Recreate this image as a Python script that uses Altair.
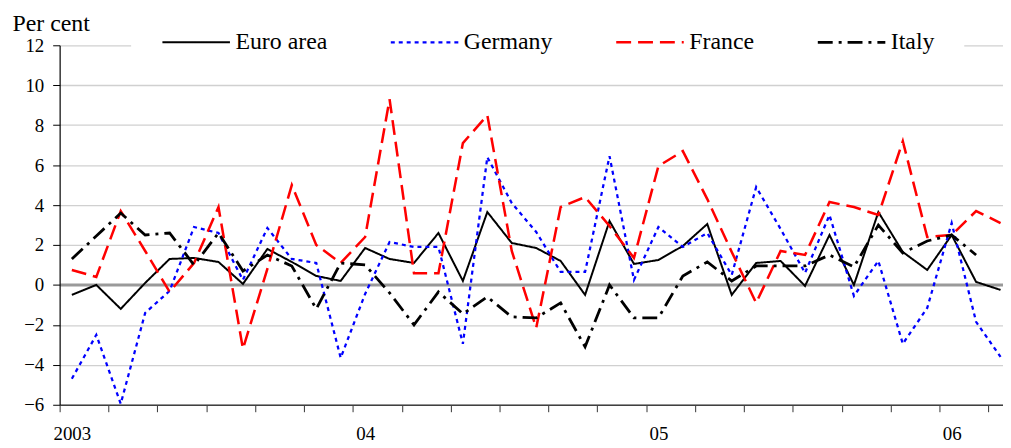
import altair as alt
import pandas as pd

series_names = ["Euro area", "Germany", "France", "Italy"]
series_colors = ["#000000", "#0000ff", "#ff0000", "#000000"]
series_dashes = [[1, 0], [4, 4], [15, 7], [15, 6, 3, 6]]
series_widths = [2.0, 2.8, 2.5, 2.0]

year_ticks = [0, 12, 24, 36]
year_labels = ["2003", "04", "05", "06"]

euro_area = [-0.5, 0.0, -1.2, 0.1, 1.3, 1.35, 1.15, 0.05, 1.8, 1.15,
             0.45, 0.2, 1.85, 1.3, 1.1, 2.6, 0.2, 3.65, 2.1, 1.85,
             1.2, -0.5, 3.2, 1.05, 1.25, 1.95, 3.05, -0.5, 1.1, 1.2,
             -0.05, 2.5, 0.0, 3.65, 1.65, 0.75, 2.5, 0.15, -0.25]
germany = [-4.7, -2.5, -5.95, -1.4, -0.3, 2.9, 2.6, 0.25, 2.85, 1.3,
           1.1, -3.65, -0.45, 2.15, 1.9, 1.9, -2.95, 6.4, 4.1, 2.65,
           0.65, 0.65, 6.45, 0.25, 2.9, 1.9, 2.6, 0.5, 4.9, 2.8,
           0.6, 3.5, -0.55, 1.2, -2.95, -1.15, 3.1, -1.85, -3.6]
france = [0.75, 0.4, 3.7, 1.7, -0.35, 1.1, 3.9, -3.2, 0.8, 5.0,
          2.0, 1.1, 2.4, 9.3, 0.58, 0.58, 7.1, 8.5, 1.7, -2.15,
          3.9, 4.4, 2.95, 1.35, 5.95, 6.7, 4.3, 1.65, -0.9, 1.7,
          1.5, 4.15, 3.9, 3.5, 7.2, 2.4, 2.5, 3.7, 3.1]
italy = [1.3, 2.45, 3.6, 2.5, 2.6, 1.0, 2.6, 0.7, 1.5, 0.95,
         -1.2, 1.1, 1.0, -0.4, -2.0, -0.35, -1.45, -0.6, -1.6, -1.65,
         -0.9, -3.1, 0.0, -1.65, -1.65, 0.45, 1.15, 0.2, 0.95, 0.95,
         0.95, 1.5, 0.9, 3.0, 1.6, 2.2, 2.5, 1.5, None]

months = pd.date_range("2003-01-01", periods=39, freq="MS").strftime("%Y-%m").tolist()

rows = []
for name, vals in zip(series_names, [euro_area, germany, france, italy]):
    for i, v in enumerate(vals):
        if v is None:
            continue
        rows.append({"series": name, "t": i + 0.5, "month": months[i], "value": v})
df = pd.DataFrame(rows)

label_expr = " : ".join(
    f"datum.value == {t} ? '{lab}'" for t, lab in zip(year_ticks, year_labels)
) + " : ''"

FONT = "Liberation Serif"

legend = alt.Legend(
    title=None, orient="none", legendX=72, legendY=-44, direction="horizontal",
    columns=4, symbolType="stroke", symbolSize=4624, symbolStrokeWidth=2.5,
    clipHeight=22, labelFont=FONT, labelFontSize=24, labelColor="black",
    labelOffset=4, columnPadding=62, padding=30, fillColor="white",
    labelLimit=300,
)

chart = alt.Chart(df).mark_line(strokeCap="butt").encode(
    x=alt.X(
        "t:Q",
        scale=alt.Scale(domain=[0, 38.6], nice=False, zero=False),
        axis=alt.Axis(
            title=None, values=list(range(0, 39, 2)), labelExpr=label_expr,
            labelOffset=12.3, labelOverlap=False, labelFlush=False,
            labelFont=FONT, labelFontSize=19, labelColor="black",
            labelPadding=13, tickSize=7, tickColor="#333333",
            domainColor="#404040", domainWidth=1.5, grid=False,
        ),
    ),
    y=alt.Y(
        "value:Q",
        scale=alt.Scale(domain=[-6, 12], nice=False),
        axis=alt.Axis(
            title="Per cent", titleAngle=0, titleAlign="left",
            titleBaseline="alphabetic", titleX=-48, titleY=-15,
            titleFont=FONT, titleFontSize=24, titleFontWeight="normal",
            titleColor="black",
            values=list(range(-6, 13, 2)), labelFont=FONT, labelFontSize=19,
            labelColor="black", labelPadding=9, tickSize=7, tickColor="black",
            domainColor="black", domainWidth=1.2,
            gridColor={"condition": {"test": "datum.value === 0", "value": "#9a9a9a"},
                       "value": "#d0d0d0"},
            gridWidth={"condition": {"test": "datum.value === 0", "value": 3},
                       "value": 1.3},
        ),
    ),
    color=alt.Color("series:N", sort=series_names,
                    scale=alt.Scale(domain=series_names, range=series_colors),
                    legend=legend),
    strokeDash=alt.StrokeDash("series:N", sort=series_names,
                              scale=alt.Scale(domain=series_names, range=series_dashes),
                              legend=legend),
    strokeWidth=alt.StrokeWidth("series:N",
                                scale=alt.Scale(domain=series_names, range=series_widths),
                                legend=None),
    detail="series:N",
).properties(
    width=950, height=362,
    autosize=alt.AutoSizeParams(type="none"),
    padding={"left": 52, "top": 36, "right": 0, "bottom": 42},
).configure_view(stroke=None)

chart.save("out.html", embed_options={"renderer": "svg", "actions": False})
